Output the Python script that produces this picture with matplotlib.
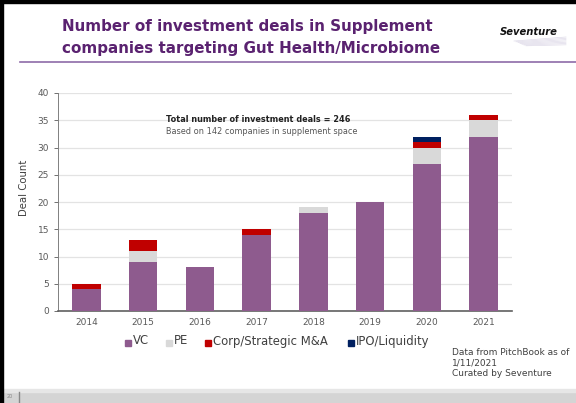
import matplotlib
matplotlib.use("Agg")
import matplotlib.pyplot as plt
from matplotlib.patches import Rectangle
import numpy as np

years = ["2014", "2015", "2016", "2017", "2018", "2019", "2020", "2021"]
vc = [4, 9, 8, 14, 18, 20, 27, 32]
pe = [0, 2, 0, 0, 1, 0, 3, 3]
corp = [1, 2, 0, 1, 0, 0, 1, 1]
ipo = [0, 0, 0, 0, 0, 0, 1, 0]
series_names = ["VC", "PE", "Corp/Strategic M&A", "IPO/Liquidity"]
colors = ["#8E5B8E", "#D9D9D9", "#C00000", "#002060"]

W, H = 576, 403
fig = plt.figure(figsize=(W / 100, H / 100), dpi=100)
fig.patch.set_facecolor("white")

def fx(px):
    return px / W

def fy(py):
    return 1 - py / H

# slide frame
fig.add_artist(Rectangle((0, fy(403)), fx(3), 1, transform=fig.transFigure, color="black", zorder=10))
fig.add_artist(Rectangle((0, fy(3)), 1, 3 / H, transform=fig.transFigure, color="black", zorder=10))
# bottom gray strip
fig.add_artist(Rectangle((fx(3), 0), 1, 13 / H, transform=fig.transFigure, color="#D4D4D4", zorder=1))
fig.add_artist(Rectangle((fx(3), 11 / H), 1, 3 / H, transform=fig.transFigure, color="#E6E6E6", zorder=1))
fig.add_artist(plt.Line2D([fx(19), fx(19)], [fy(402), fy(392)], transform=fig.transFigure, color="#888888", lw=1))
fig.text(fx(7), fy(397), "20", fontsize=3.5, color="#888888", va="center")

# title
fig.text(fx(62), fy(27), "Number of investment deals in Supplement", fontsize=10.9,
         fontweight="bold", color="#5A2270", va="center", ha="left")
fig.text(fx(62), fy(48), "companies targeting Gut Health/Microbiome", fontsize=10.9,
         fontweight="bold", color="#5A2270", va="center", ha="left")
fig.add_artist(plt.Line2D([fx(20), 1], [fy(62), fy(62)], transform=fig.transFigure, color="#8E6BA8", lw=1.2))

# logo
fig.text(fx(529), fy(32), "Seventure", fontsize=7.2, fontweight="bold", fontstyle="italic",
         color="#111111", ha="center", va="center")
for i in range(7):
    fig.add_artist(plt.Line2D([fx(514 + i * 2), fx(566)], [fy(41 + i * 0.8), fy(37 + i * 1.3)],
                              transform=fig.transFigure, color="#C9C2DA", lw=0.5, alpha=0.6))

# axes
ax = fig.add_axes([fx(58), fy(311), fx(512) - fx(58), fy(93) - fy(311)])
x = np.arange(len(years))
bottom = np.zeros(len(years))
for vals, c in zip([vc, pe, corp, ipo], colors):
    ax.bar(x, vals, bottom=bottom, width=0.5, color=c, zorder=3)
    bottom += np.array(vals)

ax.set_xlim(-0.5, len(years) - 0.5)
ax.set_ylim(0, 40)
ax.set_yticks(range(0, 41, 5))
ax.set_xticks(x)
ax.set_xticklabels(years)
ax.tick_params(axis="both", labelsize=6.5, colors="#595959", length=3, width=0.6)
ax.tick_params(axis="x", length=0, pad=5)
ax.grid(axis="y", color="#E3E3E3", lw=0.9, zorder=0)
for s in ["top", "right"]:
    ax.spines[s].set_visible(False)
ax.spines["left"].set_color("#808080")
ax.spines["bottom"].set_color("#606060")
ax.spines["left"].set_linewidth(0.7)
ax.spines["bottom"].set_linewidth(1.2)

fig.text(fx(24), fy(188), "Deal Count", fontsize=7.3, color="#404040", rotation=90,
         va="center", ha="center")

fig.text(fx(166), fy(120), "Total number of investment deals = 246", fontsize=5.85,
         fontweight="bold", color="#222222", va="center")
fig.text(fx(166), fy(131), "Based on 142 companies in supplement space", fontsize=5.85,
         color="#555555", va="center")

# legend
leg_x = [125, 166, 205, 348]
for lx, name, c in zip(leg_x, series_names, colors):
    fig.add_artist(Rectangle((fx(lx), fy(346)), 6 / W, 6 / H, transform=fig.transFigure, color=c))
    fig.text(fx(lx + 8), fy(341), name, fontsize=8.4, color="#404040", va="center", ha="left")

# footnote
fig.text(fx(452), fy(348), "Data from PitchBook as of\n1/11/2021\nCurated by Seventure",
         fontsize=6.5, color="#404040", va="top", ha="left", linespacing=1.2)

fig.savefig("out.png", dpi=100)
